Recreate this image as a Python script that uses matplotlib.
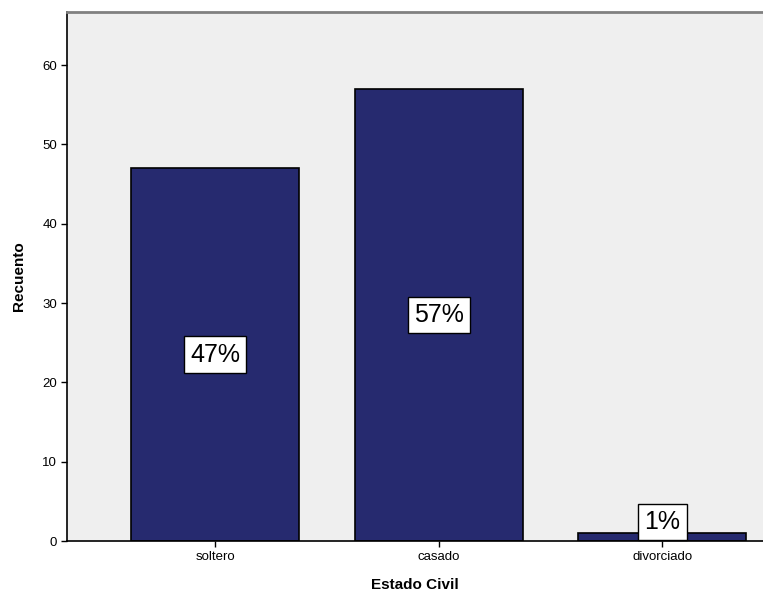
import matplotlib.pyplot as plt

plt.rcParams["font.family"] = ["Liberation Sans", "DejaVu Sans"]

categorias = ["soltero", "casado", "divorciado"]
recuento = [47, 57, 1]
porcentajes = ["47%", "57%", "1%"]

fig = plt.figure(figsize=(7.63, 5.94), dpi=100)
ax = fig.add_axes([67 / 763, 53 / 594, 696 / 763, 529 / 594])
ax.set_facecolor("#EFEFEF")

x = range(len(categorias))
ax.bar(x, recuento, width=0.75, color="#262A6F", edgecolor="black", linewidth=1.2, zorder=2)

# etiquetas de porcentaje en cajas blancas
for i, (v, txt) in enumerate(zip(recuento, porcentajes)):
    ax.text(i, max(v / 2, 2.4), txt, ha="center", va="center", fontsize=18, zorder=3,
            bbox=dict(boxstyle="square,pad=0.25", facecolor="white", edgecolor="black", linewidth=1))

ax.set_xlim(-0.662, 2.45)
ax.set_ylim(0, 66.7)
ax.set_yticks([0, 10, 20, 30, 40, 50, 60])
ax.set_xticks(list(x))
ax.set_xticklabels(categorias)
ax.tick_params(axis="both", labelsize=9.5, length=4, width=1, color="black", pad=3)

ax.spines["right"].set_visible(False)
ax.spines["top"].set_color("#808080")
ax.spines["top"].set_linewidth(2)
ax.spines["left"].set_linewidth(1.2)
ax.spines["bottom"].set_linewidth(1.2)

ax.set_ylabel("Recuento", fontsize=11, fontweight="bold", labelpad=12)
ax.set_xlabel("Estado Civil", fontsize=11, fontweight="bold", labelpad=11)

fig.savefig("out.png", dpi=100)
